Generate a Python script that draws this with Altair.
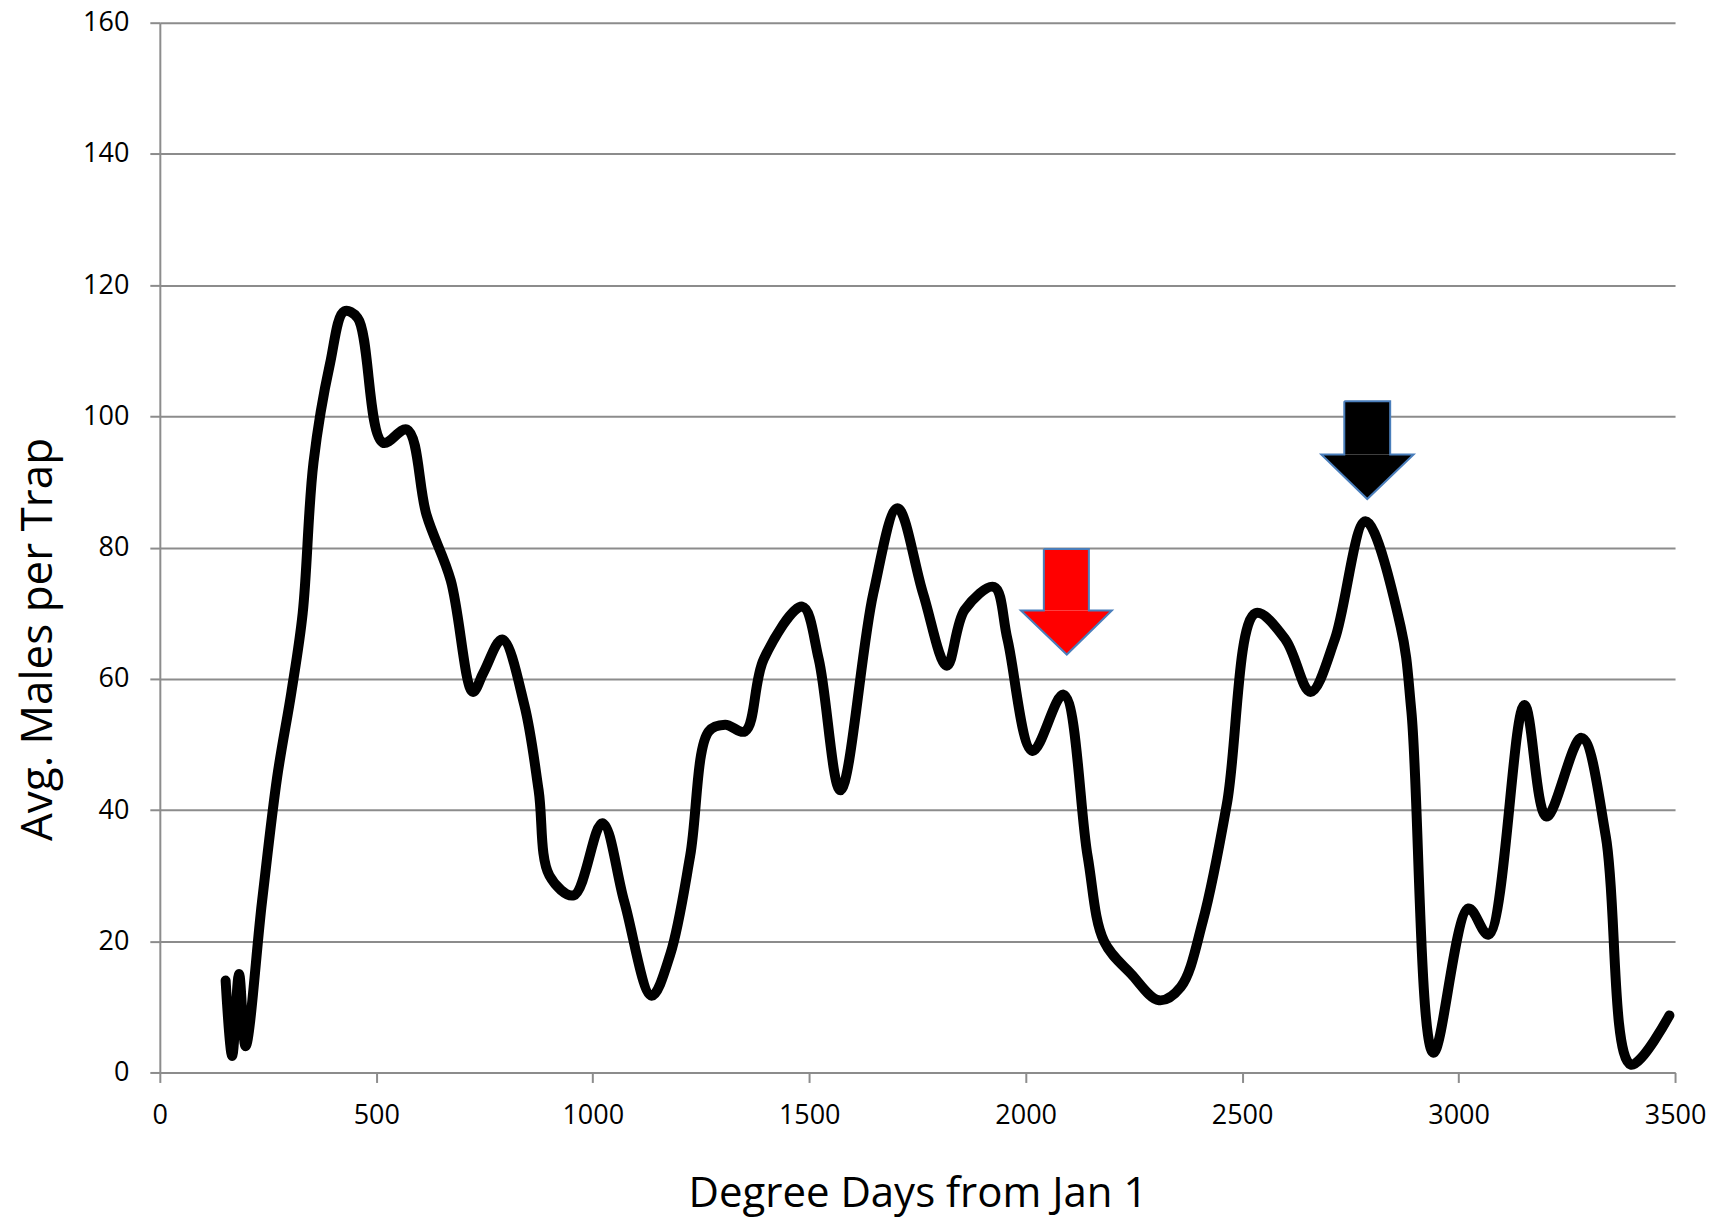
import altair as alt
import pandas as pd

# ---- main series ----
deg_days = [152, 167, 183, 198, 236, 271, 304, 330, 355, 393, 426, 457, 515, 571, 616, 672,
            723, 748, 791, 842, 875, 900, 956, 1022, 1073, 1136, 1179, 1225, 1268, 1306, 1352,
            1395, 1484, 1522, 1572, 1648, 1704, 1763, 1818, 1859, 1927, 1958, 2016, 2087, 2143,
            2181, 2244, 2308, 2358, 2409, 2465, 2531, 2600, 2658, 2714, 2785, 2866, 2891, 2942,
            3023, 3069, 3152, 3203, 3284, 3340, 3398, 3487]
males = [14, 2.5, 15, 4, 26, 45, 58, 70, 93, 108, 116, 115, 96, 98, 85, 75,
         58, 61, 66, 56, 43, 30, 27, 38, 26, 11.7, 18, 33, 52, 53, 52,
         63, 71, 63, 43, 73, 86, 73, 62, 70.5, 74, 66, 49, 57.6, 33,
         20, 15, 11, 13, 23, 41, 70, 66, 58, 66, 84, 68, 55, 3,
         25, 21, 56, 39, 51, 36, 1.2, 8.7]

x_ticks = [0, 500, 1000, 1500, 2000, 2500, 3000, 3500]
y_ticks = [0, 20, 40, 60, 80, 100, 120, 140, 160]

# ---- arrow annotations (data coordinates) ----
arrow_names = ["red", "black"]
arrow_fill = ["#ff0000", "#000000"]
shaft_x1 = [2042, 2736]
shaft_x2 = [2146, 2842]
shaft_top = [79.8, 102.3]
shaft_bottom = [70.4, 94.2]
head_left = [1989, 2683]
head_right = [2199, 2896]
tip_x = [2095, 2789]
tip_y = [63.7, 87.4]

line_df = pd.DataFrame({"x": deg_days, "y": males})

shaft_df = pd.DataFrame({"name": arrow_names, "x": shaft_x1, "x2": shaft_x2,
                         "y": shaft_bottom, "y2": shaft_top, "fill": arrow_fill})

head_rows = []
outline_rows = []
for i, n in enumerate(arrow_names):
    head_rows += [
        {"name": n, "x": head_left[i], "y": shaft_bottom[i], "y2": shaft_bottom[i], "fill": arrow_fill[i]},
        {"name": n, "x": tip_x[i], "y": tip_y[i], "y2": shaft_bottom[i], "fill": arrow_fill[i]},
        {"name": n, "x": head_right[i], "y": shaft_bottom[i], "y2": shaft_bottom[i], "fill": arrow_fill[i]},
    ]
    pts = [(shaft_x1[i], shaft_top[i]), (shaft_x2[i], shaft_top[i]), (shaft_x2[i], shaft_bottom[i]),
           (head_right[i], shaft_bottom[i]), (tip_x[i], tip_y[i]), (head_left[i], shaft_bottom[i]),
           (shaft_x1[i], shaft_bottom[i]), (shaft_x1[i], shaft_top[i])]
    for k, (px, py) in enumerate(pts):
        outline_rows.append({"name": n, "x": px, "y": py, "o": k})
head_df = pd.DataFrame(head_rows)
outline_df = pd.DataFrame(outline_rows)

xs = alt.Scale(domain=[0, 3500], nice=False, zero=False)
ys = alt.Scale(domain=[0, 160], nice=False)

X = alt.X("x:Q", scale=xs, axis=alt.Axis(values=x_ticks, grid=False, title="Degree Days from Jan 1",
                                         format="d", labelPadding=20, labelFlush=False,
                                         labelOverlap=False, titleY=121,
                                         titleBaseline="middle", titleFontSize=42))
Y = alt.Y("y:Q", scale=ys, axis=alt.Axis(values=y_ticks, grid=True, title="Avg. Males per Trap",
                                         format="d", labelPadding=21, labelFlush=False,
                                         labelOverlap=False, titleX=-121, titleY=617,
                                         titleBaseline="middle", titleAngle=270, titleFontSize=44))

main = alt.Chart(line_df).mark_line(
    color="black", strokeWidth=10, interpolate="catmull-rom", strokeCap="round", strokeJoin="round"
).encode(x=X, y=Y)

shafts = alt.Chart(shaft_df).mark_rect().encode(
    x=X, x2="x2:Q", y=Y, y2="y2:Q",
    fill=alt.Fill("fill:N", scale=None),
)

heads = alt.Chart(head_df).mark_area(interpolate="linear").encode(
    x=X, y=Y, y2="y2:Q",
    fill=alt.Fill("fill:N", scale=None),
    detail="name:N",
)

outlines = alt.Chart(outline_df).mark_line(color="#4a7ebb", strokeWidth=2, strokeJoin="miter").encode(
    x=X, y=Y,
    order="o:Q",
    detail="name:N",
)

chart = alt.layer(main, shafts, heads, outlines).properties(
    width=1517, height=1051,
    autosize="none",
    padding={"left": 152, "top": 14, "right": 40, "bottom": 150},
).configure_view(stroke=None).configure_axis(
    domainColor="#8c8c8c", domainWidth=2,
    tickColor="#8c8c8c", tickWidth=2, tickSize=10,
    gridColor="#8c8c8c", gridWidth=2,
    labelFont="Open Sans", labelFontSize=27, labelColor="black",
    titleFont="Open Sans", titleFontWeight="normal", titleColor="black",
)

chart.save("out.html", embed_options={"renderer": "svg", "actions": False})
